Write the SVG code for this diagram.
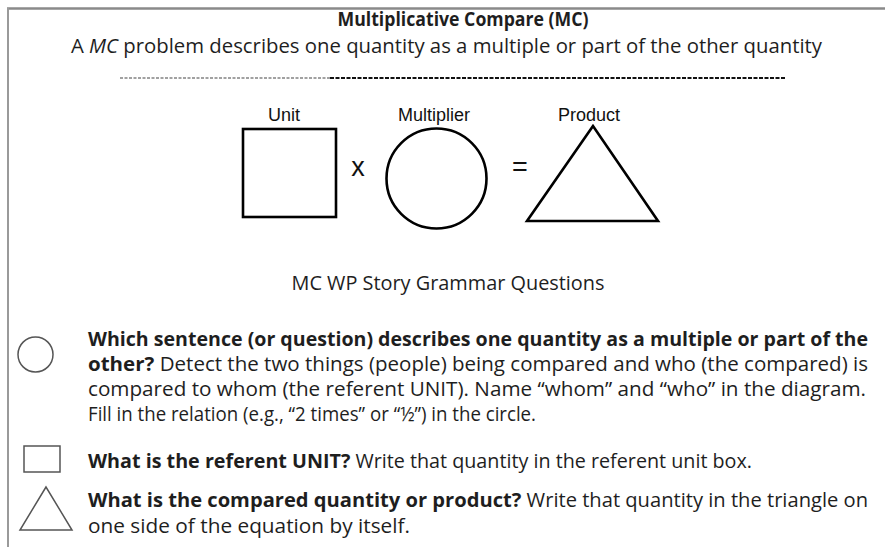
<svg xmlns="http://www.w3.org/2000/svg" width="885" height="547" viewBox="0 0 885 547">
<style>
.t{font-family:"Open Sans","Noto Sans","Liberation Sans",sans-serif;fill:#1e1e1e;font-size:19.5px}
.b{font-weight:bold}
.lbl{font-family:"Liberation Sans",Arial,sans-serif;fill:#111;font-size:18px}
.op{font-family:"Liberation Sans",Arial,sans-serif;fill:#111;font-size:27px}
.big{fill:none;stroke:#000;stroke-width:2.6}
.ico{fill:none;stroke:#555;stroke-width:1.5}
</style>
<rect width="885" height="547" fill="#fff"/>
<g id="frame">
<line x1="7" y1="8.5" x2="885" y2="8.5" stroke="#8a8a8a" stroke-width="2.5"/>
<line x1="8" y1="8" x2="8" y2="547" stroke="#9a9a9a" stroke-width="2"/>
</g>
<g id="header">
<text class="t b" x="463" y="26" text-anchor="middle" textLength="251" lengthAdjust="spacingAndGlyphs">Multiplicative Compare (MC)</text>
<text class="t" x="71" y="53" textLength="751" lengthAdjust="spacingAndGlyphs">A <tspan font-style="italic">MC</tspan> problem describes one quantity as a multiple or part of the other quantity</text>
<line x1="120" y1="78" x2="330" y2="78" stroke="#444" stroke-width="1.2" stroke-dasharray="3,1.5"/>
<line x1="330" y1="78" x2="785" y2="78" stroke="#111" stroke-width="2" stroke-dasharray="4,1.5"/>
</g>
<g id="unit">
<text class="lbl" x="284" y="121" text-anchor="middle">Unit</text>
<rect class="big" x="243" y="129" width="93" height="88"/>
</g>
<g id="times"><text class="op" x="358" y="176" text-anchor="middle">x</text></g>
<g id="multiplier">
<text class="lbl" x="434" y="121" text-anchor="middle">Multiplier</text>
<circle class="big" cx="436.5" cy="178.5" r="50"/>
</g>
<g id="equals"><text class="op" x="520" y="176" text-anchor="middle">=</text></g>
<g id="product">
<text class="lbl" x="589" y="121" text-anchor="middle">Product</text>
<polygon class="big" points="593,126 527,221 658,221"/>
</g>
<g id="questions-title">
<text class="t" x="448" y="290" text-anchor="middle" textLength="313" lengthAdjust="spacingAndGlyphs">MC WP Story Grammar Questions</text>
</g>
<g id="q-circle">
<circle class="ico" cx="35.5" cy="354.5" r="17.5"/>
<text class="t b" x="88" y="346" textLength="780" lengthAdjust="spacingAndGlyphs">Which sentence (or question) describes one quantity as a multiple or part of the</text>
<text class="t" x="88" y="371" textLength="780" lengthAdjust="spacingAndGlyphs"><tspan class="b">other?</tspan>  Detect the two things (people) being compared and who (the compared) is</text>
<text class="t" x="88" y="396" textLength="778" lengthAdjust="spacingAndGlyphs">compared to whom (the referent UNIT). Name “whom” and “who” in the diagram.</text>
<text class="t" x="88" y="421" textLength="448" lengthAdjust="spacingAndGlyphs">Fill in the relation (e.g., “2 times” or “½”) in the circle.</text>
</g>
<g id="q-square">
<rect class="ico" x="24" y="446" width="36" height="26"/>
<text class="t" x="88" y="468" textLength="664" lengthAdjust="spacingAndGlyphs"><tspan class="b">What is the referent UNIT?</tspan> Write that quantity in the referent unit box.</text>
</g>
<g id="q-triangle">
<polygon class="ico" points="46,487 20,530 72,530"/>
<text class="t" x="88" y="507" textLength="780" lengthAdjust="spacingAndGlyphs"><tspan class="b">What is the compared quantity or product?</tspan>  Write that quantity in the triangle on</text>
<text class="t" x="88" y="533" textLength="322" lengthAdjust="spacingAndGlyphs">one side of the equation by itself.</text>
</g>
</svg>
